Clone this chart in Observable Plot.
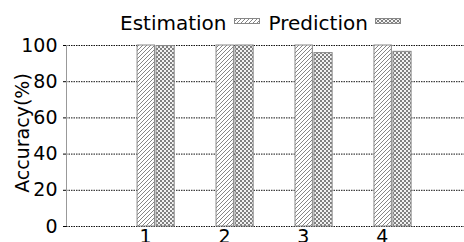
<!DOCTYPE html>
<html>
<head>
<meta charset="utf-8">
<script src="https://cdn.jsdelivr.net/npm/d3@7"></script>
<script src="https://cdn.jsdelivr.net/npm/@observablehq/plot@0.6"></script>
<style>
  html, body { margin: 0; padding: 0; background: white; }
  body { width: 464px; height: 242px; position: relative; overflow: hidden; font-family: "DejaVu Sans", sans-serif; }
  #legend { position: absolute; top: 11px; left: 120px; font-size: 20px; white-space: nowrap; line-height: normal; }
  #legend svg { display: inline-block; vertical-align: 6px; }
</style>
</head>
<body>
<div id="legend"></div>
<div id="chart"></div>
<script>
const categories = [1, 2, 3, 4];
const seriesNames = ["Estimation", "Prediction"];
const estimation = [100, 100, 100, 100];
const prediction = [99.7, 100, 95.8, 96.5];
const yTicks = [0, 20, 40, 60, 80, 100];
const yLabel = "Accuracy(%)";

// bar placement relative to each category tick (x units)
const barOffsets = { Estimation: [-0.1, 0.12], Prediction: [0.14, 0.37] };
const patternIds = { Estimation: "hatch", Prediction: "cross" };

const rows = [];
categories.forEach((c, i) => {
  rows.push({ x: c, series: "Estimation", value: estimation[i] });
  rows.push({ x: c, series: "Prediction", value: prediction[i] });
});

function patternDefs(prefix) {
  return `<defs>
    <pattern id="${prefix}hatch" patternUnits="userSpaceOnUse" width="4" height="4">
      <rect width="4" height="4" fill="white"/>
      <path d="M-1,1 l2,-2 M0,4 l4,-4 M3,5 l2,-2" stroke="#777" stroke-width="0.9"/>
    </pattern>
    <pattern id="${prefix}cross" patternUnits="userSpaceOnUse" width="4" height="4">
      <rect width="4" height="4" fill="#f2f2f2"/>
      <rect x="0" y="0" width="2" height="2" fill="#808080"/>
      <rect x="2" y="2" width="2" height="2" fill="#808080"/>
    </pattern>
  </defs>`;
}

const marks = [
  Plot.ruleY(yTicks, { stroke: "#111", strokeDasharray: "1.5,1" }),
  Plot.ruleX([0], { stroke: "#999" })
];
for (const s of seriesNames) {
  marks.push(Plot.rectY(rows.filter(d => d.series === s), {
    x1: d => d.x + barOffsets[s][0],
    x2: d => d.x + barOffsets[s][1],
    y1: 0,
    y2: "value",
    fill: `url(#${patternIds[s]})`,
    stroke: "#888",
    strokeWidth: 1
  }));
}
marks.push(Plot.text([yLabel], {
  text: d => d,
  frameAnchor: "left",
  textAnchor: "middle",
  rotate: -90,
  dx: -44,
  dy: -3,
  fontSize: 19
}));

const plot = Plot.plot({
  width: 464,
  height: 242,
  marginLeft: 66,
  marginRight: 0,
  marginTop: 45,
  marginBottom: 16,
  style: { fontFamily: "DejaVu Sans, sans-serif", fontSize: "19px", background: "white", overflow: "visible" },
  x: { domain: [0, 5.04], ticks: categories, tickSize: 0, tickPadding: 3, tickFormat: d => String(d), label: null },
  y: { domain: [0, 100], ticks: yTicks, tickSize: 3, tickPadding: 6, label: null },
  marks
});
plot.insertAdjacentHTML("afterbegin", patternDefs(""));
document.getElementById("chart").appendChild(plot);

// legend
const legend = document.getElementById("legend");
seriesNames.forEach((s, i) => {
  const span = document.createElement("span");
  span.textContent = s;
  span.style.marginLeft = i === 0 ? "0px" : "9px";
  legend.appendChild(span);
  const sw = document.createElementNS("http://www.w3.org/2000/svg", "svg");
  sw.setAttribute("width", 26);
  sw.setAttribute("height", 6);
  sw.style.marginLeft = "7px";
  sw.innerHTML = patternDefs("lg" + i) +
    `<rect x="0.5" y="0.5" width="25" height="5" fill="url(#lg${i}${patternIds[s]})" stroke="#888"/>`;
  legend.appendChild(sw);
});
</script>
</body>
</html>
